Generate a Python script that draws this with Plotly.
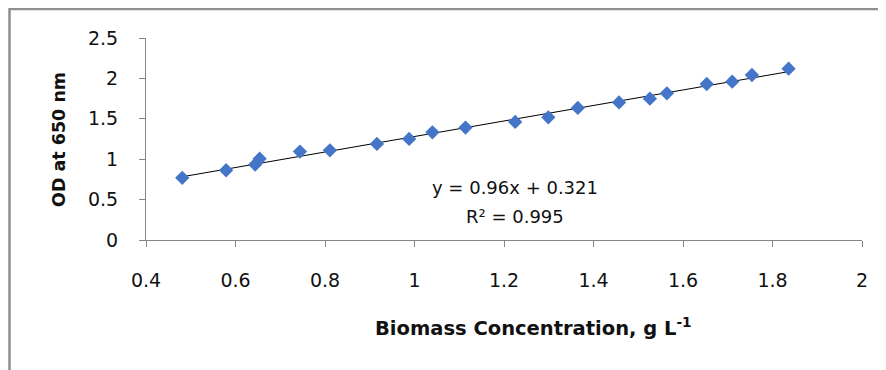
import plotly.graph_objects as go

biomass = [0.481, 0.579, 0.644, 0.654, 0.744, 0.811, 0.916, 0.988, 1.040, 1.114,
           1.225, 1.299, 1.365, 1.457, 1.526, 1.564, 1.653, 1.710, 1.754, 1.836]
od650 = [0.769, 0.863, 0.933, 1.007, 1.094, 1.110, 1.189, 1.251, 1.333, 1.391,
         1.461, 1.518, 1.634, 1.703, 1.749, 1.815, 1.931, 1.959, 2.042, 2.120]
slope = 0.96
intercept = 0.321
eq_line1 = "y = 0.96x + 0.321"
eq_line2 = "R² = 0.995"
x_title = "<b>Biomass Concentration, g L<sup>-1</sup></b>"
y_title = "<b>OD at 650 nm</b>"

trend_x = [min(biomass), max(biomass)]
trend_y = [slope * v + intercept for v in trend_x]

FONT = "DejaVu Sans, sans-serif"
OFF = 8  # page body margin
W, H = 886 - OFF, 370 - OFF
ML, MR, MT, MB = 138, 24, 30, 130
PW, PH = W - ML - MR, H - MT - MB


def px_x(p):
    return (p - OFF - ML) / PW


def px_y(p):
    return (H - MB - (p - OFF)) / PH


fig = go.Figure()
fig.add_trace(go.Scatter(x=trend_x, y=trend_y, mode="lines",
                         line=dict(color="black", width=1), hoverinfo="skip",
                         showlegend=False))
fig.add_trace(go.Scatter(x=biomass, y=od650, mode="markers",
                         marker=dict(symbol="diamond", size=11, color="#4575c8",
                                     line=dict(width=0)),
                         showlegend=False))

fig.update_layout(
    width=W, height=H,
    margin=dict(l=ML, r=MR, t=MT, b=MB, pad=0),
    paper_bgcolor="white", plot_bgcolor="white",
    font=dict(family=FONT, size=18, color="black"),
    xaxis=dict(range=[0.4, 2], dtick=0.2, tick0=0.4, showgrid=False, zeroline=False,
               showline=True, linecolor="#868686", linewidth=1,
               ticks="outside", ticklen=6, tickcolor="#868686",
               ticklabelstandoff=17,
               tickfont=dict(family=FONT, size=19, color="#111111")),
    yaxis=dict(range=[0, 2.5], dtick=0.5, showgrid=False, zeroline=False,
               showline=True, linecolor="#868686", linewidth=1,
               ticks="outside", ticklen=6, tickcolor="#868686",
               ticklabelstandoff=17,
               tickfont=dict(family=FONT, size=19, color="#111111")),
    shapes=[dict(type="rect", xref="paper", yref="paper",
                 x0=px_x(9.5), x1=px_x(920), y0=px_y(400), y1=px_y(9),
                 line=dict(color="#8f8f8f", width=2.5), fillcolor="rgba(0,0,0,0)")],
    annotations=[
        dict(text=eq_line1, xref="paper", yref="paper", x=px_x(515), y=px_y(187),
             xanchor="center", yanchor="middle", showarrow=False,
             font=dict(family=FONT, size=18, color="#111111")),
        dict(text=eq_line2, xref="paper", yref="paper", x=px_x(515), y=px_y(216),
             xanchor="center", yanchor="middle", showarrow=False,
             font=dict(family=FONT, size=18, color="#111111")),
        dict(text=x_title, xref="paper", yref="paper", x=px_x(533), y=px_y(327),
             xanchor="center", yanchor="middle", showarrow=False,
             font=dict(family=FONT, size=19.5, color="#111111")),
        dict(text=y_title, xref="paper", yref="paper", x=px_x(59), y=px_y(140),
             xanchor="center", yanchor="middle", showarrow=False, textangle=-90,
             font=dict(family=FONT, size=17.5, color="#111111")),
    ],
)

fig.write_html("out.html")
